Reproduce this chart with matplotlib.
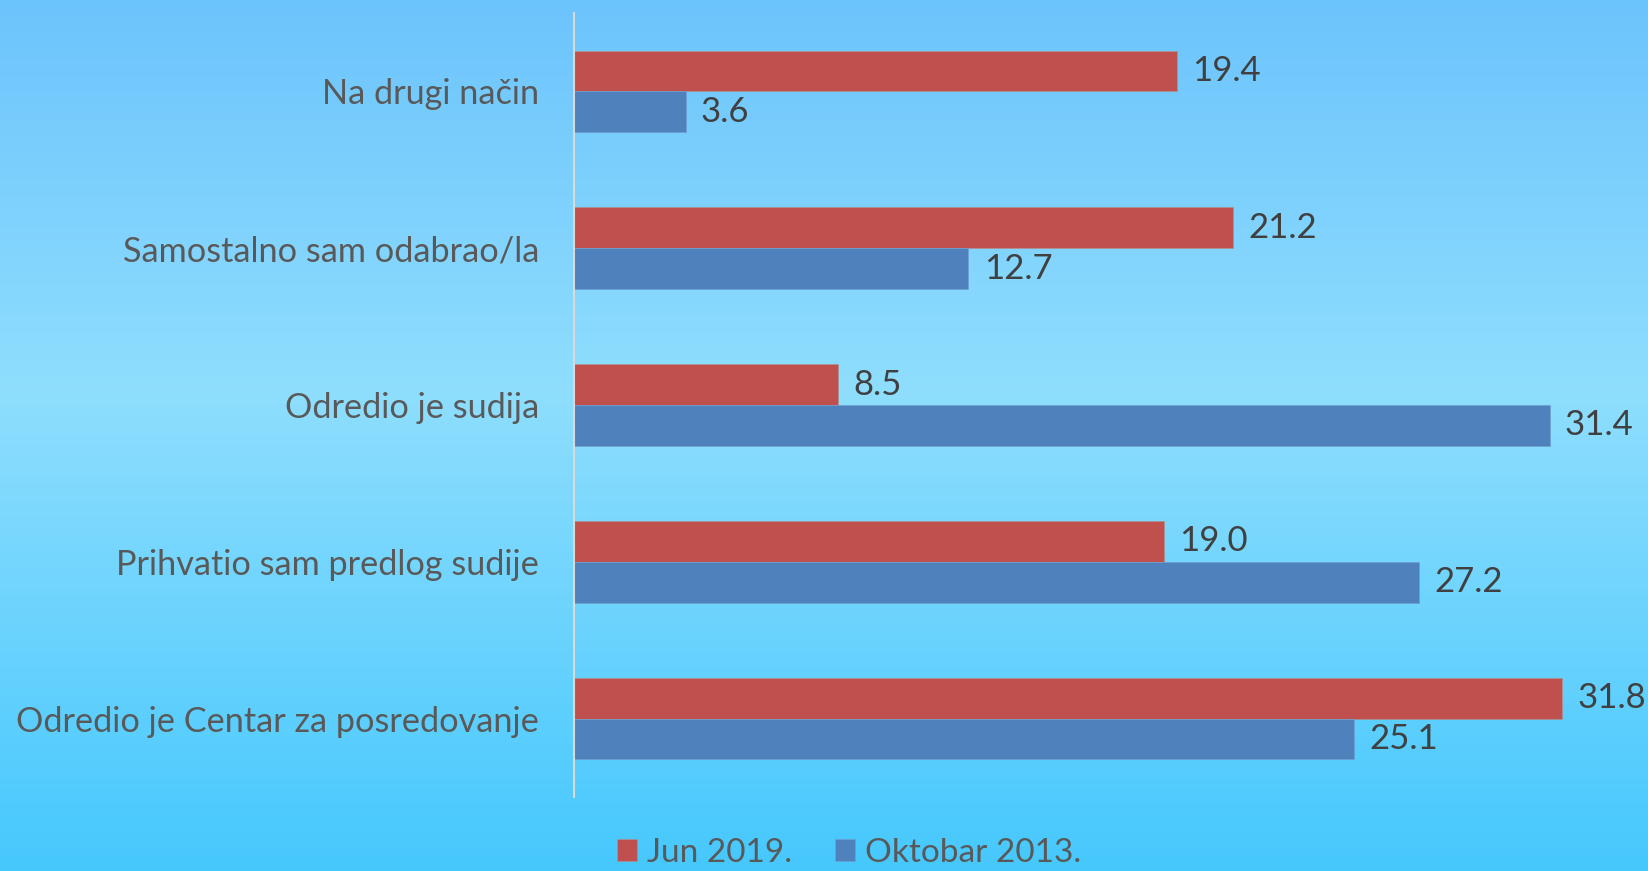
import numpy as np
import matplotlib
matplotlib.use("Agg")
import matplotlib.pyplot as plt
from matplotlib.colors import LinearSegmentedColormap

categories = ["Odredio je Centar za posredovanje", "Prihvatio sam predlog sudije",
              "Odredio je sudija", "Samostalno sam odabrao/la", "Na drugi način"]
jun2019 = [31.8, 19.0, 8.5, 21.2, 19.4]
okt2013 = [25.1, 27.2, 31.4, 12.7, 3.6]
series_names = ["Jun 2019.", "Oktobar 2013."]

RED = "#C0504D"; BLUE = "#4F81BD"
plt.rcParams["font.family"] = ["Lato", "DejaVu Sans"]

fig = plt.figure(figsize=(16.49, 8.71), dpi=100)

# background gradient
bg = fig.add_axes([0, 0, 1, 1], zorder=-10)
cmap = LinearSegmentedColormap.from_list("bg", [(0.0, "#6cc4fc"), (0.45, "#8fdefe"), (1.0, "#46c8fd")])
grad = np.linspace(0, 1, 256).reshape(-1, 1)
bg.imshow(grad, aspect="auto", cmap=cmap, extent=[0, 1, 1, 0])
bg.set_axis_off()

ax = fig.add_axes([0.348, 0.085, 0.652, 0.90])
ax.set_facecolor("none")
y = np.arange(len(categories))
h = 0.26
b1 = ax.barh(y + h/2, jun2019, height=h, color=RED, edgecolor="#b0908f", linewidth=0.5, label=series_names[0])
b2 = ax.barh(y - h/2, okt2013, height=h, color=BLUE, edgecolor="#6fa0cf", linewidth=0.5, label=series_names[1])
for bars, vals in ((b1, jun2019), (b2, okt2013)):
    for b, v in zip(bars, vals):
        ax.annotate(f"{v:.1f}", (v, b.get_y() + b.get_height()/2), xytext=(11, 0),
                    textcoords="offset points", ha="left", va="center", fontsize=25, color="#404040")

ax.set_xlim(0, 34.6)
ax.set_ylim(-0.5, len(categories) - 0.5)
ax.set_yticks(y)
ax.set_yticklabels(categories, fontsize=24.7, color="#595959")
ax.tick_params(axis="y", length=0, pad=25)
ax.set_xticks([])
for s in ["top", "right", "bottom"]:
    ax.spines[s].set_visible(False)
ax.spines["left"].set_color("#d9d9d9")
ax.spines["left"].set_linewidth(1.5)

fig.legend(handles=[b1, b2], labels=series_names, loc="center", bbox_to_anchor=(0.515, 0.021),
           ncol=2, frameon=False, fontsize=24, labelcolor="#595959", handlelength=0.6,
           handleheight=0.6, handletextpad=0.3, columnspacing=1.3)

fig.savefig("out.png", dpi=100)
